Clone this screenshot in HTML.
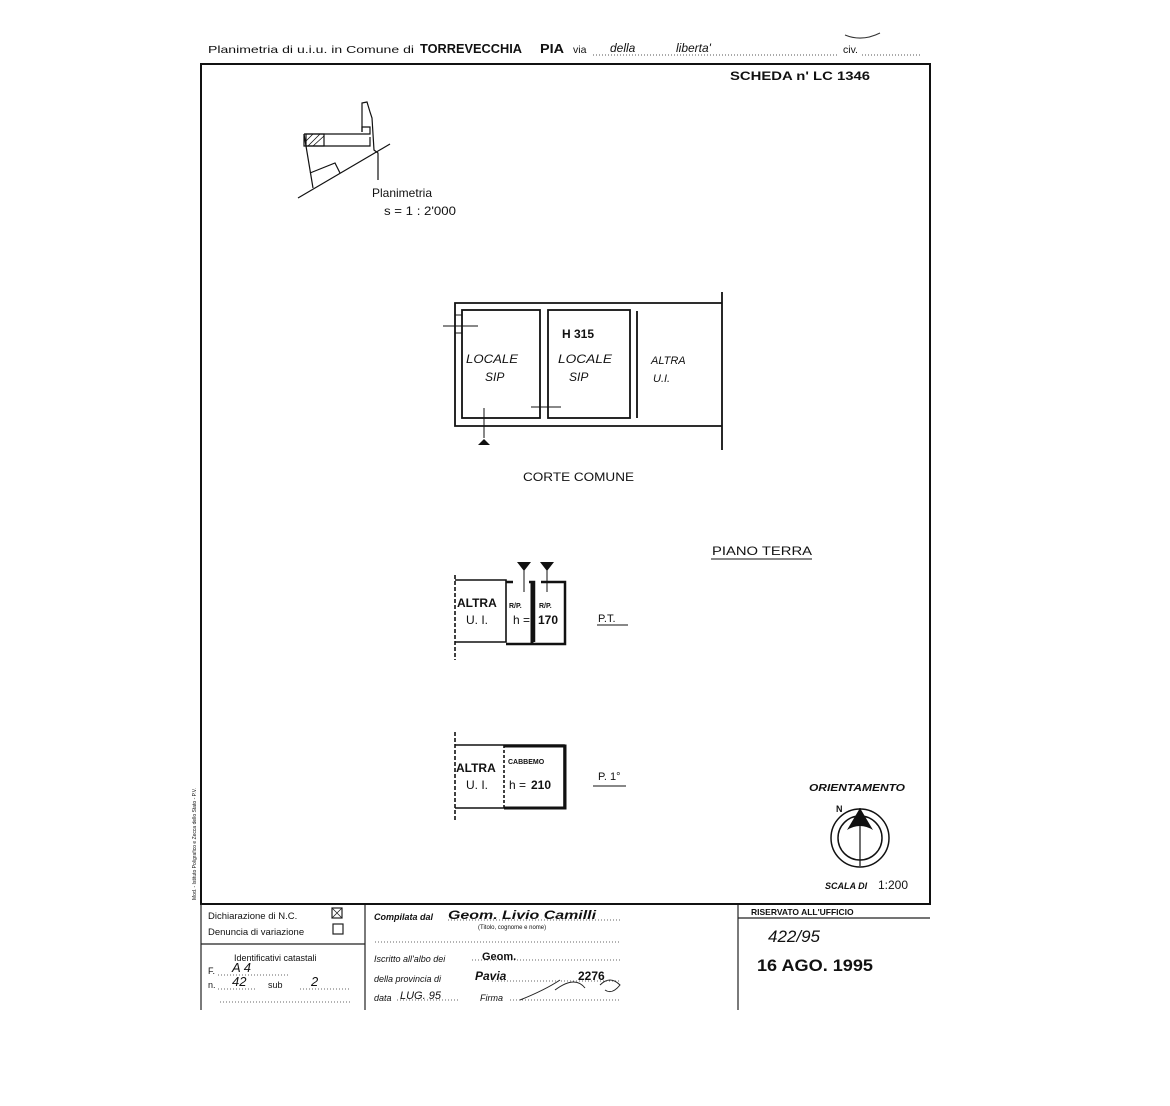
<!DOCTYPE html>
<html><head><meta charset="utf-8"><style>
html,body{margin:0;padding:0;background:#fff;}
svg{display:block;}
text{font-family:"Liberation Sans",sans-serif;fill:#111;}
.h{font-family:"Liberation Sans",sans-serif;font-style:italic;}
</style></head><body>
<svg width="1170" height="1106" viewBox="0 0 1170 1106" xmlns="http://www.w3.org/2000/svg">
<rect width="1170" height="1106" fill="#fff"/>
<!-- header -->
<text x="208" y="53" font-size="10.5" textLength="206" lengthAdjust="spacingAndGlyphs">Planimetria di u.i.u. in Comune di</text>
<text x="420" y="53" font-size="12.5" font-weight="bold" textLength="102" lengthAdjust="spacingAndGlyphs">TORREVECCHIA</text>
<text x="540" y="53" font-size="12.5" font-weight="bold" textLength="24" lengthAdjust="spacingAndGlyphs">PIA</text>
<text x="573" y="53" font-size="10.5">via</text>
<text x="610" y="52" font-size="12" class="h">della</text>
<text x="676" y="52" font-size="12" class="h">liberta'</text>
<text x="843" y="53" font-size="10.5">civ.</text>
<line x1="593" y1="55" x2="837" y2="55" stroke="#555" stroke-dasharray="1,2"/>
<line x1="862" y1="55" x2="922" y2="55" stroke="#555" stroke-dasharray="1,2"/>
<path d="M845 35 Q862 42 880 33" stroke="#333" fill="none"/>
<!-- main frame -->
<rect x="201" y="64" width="729" height="840" fill="none" stroke="#111" stroke-width="2"/>
<text x="730" y="80" font-size="12" font-weight="bold" textLength="140" lengthAdjust="spacingAndGlyphs">SCHEDA  n'  LC 1346</text>
<!-- site plan -->
<g stroke="#111" fill="none" stroke-width="1.2">
<path d="M362 132 L362 103 L367 102 L370 112 L372 118 L374 150 L378 153 L378 180"/>
<path d="M304 134 L370 134 L370 127 L362 127 L362 132"/>
<path d="M304 134 L304 146 L370 146 L370 137"/>
<path d="M304 134 L313 188"/>
<path d="M298 198 L390 144"/>
<path d="M310 173 L335 163 L340 173"/>
<rect x="306" y="134" width="18" height="12"/>
<path d="M308 146 L320 134 M313 146 L324 136 M306 141 L313 134" stroke-width="0.8"/>
</g>
<text x="372" y="197" font-size="12">Planimetria</text>
<text x="384" y="215" font-size="12" textLength="72" lengthAdjust="spacingAndGlyphs">s = 1 : 2'000</text>
<!-- ground plan -->
<g stroke="#111" fill="none" stroke-width="1.8">
<path d="M722 303 L455 303 L455 426 L722 426"/>
<line x1="722" y1="292" x2="722" y2="450"/>
<rect x="462" y="310" width="78" height="108"/>
<rect x="548" y="310" width="82" height="108"/>
<line x1="637" y1="311" x2="637" y2="418"/>
<line x1="443" y1="326" x2="478" y2="326" stroke-width="1"/>
<line x1="455" y1="315" x2="462" y2="315" stroke-width="1"/>
<line x1="455" y1="333" x2="462" y2="333" stroke-width="1"/>
<line x1="484" y1="408" x2="484" y2="438" stroke-width="1"/>
<line x1="531" y1="407" x2="561" y2="407" stroke-width="1"/>
</g>
<path d="M478 445 L484 439 L490 445 Z" fill="#111"/>
<text x="466" y="363" font-size="12" class="h" textLength="52" lengthAdjust="spacingAndGlyphs">LOCALE</text>
<text x="485" y="381" font-size="12" class="h">SIP</text>
<text x="562" y="338" font-size="12" font-weight="bold">H 315</text>
<text x="558" y="363" font-size="12" class="h" textLength="54" lengthAdjust="spacingAndGlyphs">LOCALE</text>
<text x="569" y="381" font-size="12" class="h">SIP</text>
<text x="651" y="364" font-size="11" class="h">ALTRA</text>
<text x="653" y="382" font-size="11" class="h">U.I.</text>
<text x="523" y="481" font-size="12" textLength="111" lengthAdjust="spacingAndGlyphs">CORTE  COMUNE</text>
<text x="712" y="555" font-size="12" textLength="100" lengthAdjust="spacingAndGlyphs">PIANO  TERRA</text>
<line x1="711" y1="559" x2="812" y2="559" stroke="#111"/>
<!-- P.T. -->
<g stroke="#111" fill="none" stroke-width="1.6">
<path d="M455 580 L506 580 L506 642 L455 642"/>
<line x1="455" y1="575" x2="455" y2="660" stroke-dasharray="4,2"/>
<path d="M506 582 L513 582 M529 582 L534 582 L534 642 M541 582 L565 582 L565 644 L506 644" stroke-width="2.5"/>
<line x1="532" y1="582" x2="532" y2="644" stroke-width="3"/>
<line x1="524" y1="568" x2="524" y2="592" stroke-width="1"/>
<line x1="547" y1="568" x2="547" y2="592" stroke-width="1"/>
</g>
<path d="M517 562 L531 562 L524 571 Z M540 562 L554 562 L547 571 Z" fill="#111"/>
<text x="457" y="607" font-size="12" font-weight="bold">ALTRA</text>
<text x="466" y="624" font-size="12">U. I.</text>
<text x="509" y="608" font-size="7" font-weight="bold">R/P.</text>
<text x="539" y="608" font-size="7" font-weight="bold">R/P.</text>
<text x="513" y="624" font-size="12">h =</text>
<text x="538" y="624" font-size="12" font-weight="bold">170</text>
<text x="598" y="622" font-size="11">P.T.</text>
<line x1="597" y1="625" x2="628" y2="625" stroke="#111"/>
<!-- P.1 -->
<g stroke="#111" fill="none" stroke-width="1.6">
<path d="M455 745 L564 745 L564 808 L455 808"/>
<line x1="455" y1="732" x2="455" y2="822" stroke-dasharray="4,2"/>
<line x1="504" y1="745" x2="504" y2="808" stroke-dasharray="3,2"/>
<path d="M504 746 L565 746 L565 808 L504 808" stroke-width="3"/>
</g>
<text x="456" y="772" font-size="12" font-weight="bold">ALTRA</text>
<text x="466" y="789" font-size="12">U. I.</text>
<text x="508" y="764" font-size="7" font-weight="bold">CABBEMO</text>
<text x="509" y="789" font-size="12">h =</text>
<text x="531" y="789" font-size="12" font-weight="bold">210</text>
<text x="598" y="780" font-size="11">P. 1°</text>
<line x1="593" y1="786" x2="626" y2="786" stroke="#111"/>
<!-- orientation -->
<text x="809" y="791" font-size="10.5" font-weight="bold" font-style="italic" textLength="96" lengthAdjust="spacingAndGlyphs">ORIENTAMENTO</text>
<text x="836" y="812" font-size="9" font-weight="bold">N</text>
<circle cx="860" cy="838" r="29" fill="none" stroke="#111" stroke-width="1.5"/>
<circle cx="860" cy="838" r="22" fill="none" stroke="#111" stroke-width="1.5"/>
<path d="M860 808 L847 830 Q860 822 873 830 Z" fill="#111"/>
<line x1="860" y1="808" x2="860" y2="866" stroke="#111" stroke-width="1.2"/>
<text x="825" y="889" font-size="9" font-weight="bold" font-style="italic">SCALA DI</text>
<text x="878" y="889" font-size="12">1:200</text>
<!-- bottom table -->
<g stroke="#222" stroke-width="1.2" fill="none">
<line x1="201" y1="904" x2="201" y2="1010"/>
<line x1="365" y1="905" x2="365" y2="1010"/>
<line x1="738" y1="905" x2="738" y2="1010"/>
<line x1="201" y1="944" x2="365" y2="944"/>
<line x1="738" y1="918" x2="930" y2="918"/>
<rect x="332" y="908" width="10" height="10"/>
<path d="M332 908 L342 918 M342 908 L332 918" stroke-width="0.8"/>
<rect x="333" y="924" width="10" height="10"/>
</g>
<g stroke="#666" stroke-dasharray="1,2">
<line x1="375" y1="942" x2="620" y2="942"/>
<line x1="472" y1="960" x2="620" y2="960"/>
<line x1="492" y1="981" x2="620" y2="981"/>
<line x1="397" y1="1000" x2="460" y2="1000"/>
<line x1="510" y1="1000" x2="620" y2="1000"/>
<line x1="448" y1="920" x2="620" y2="920"/>
<line x1="218" y1="975" x2="290" y2="975"/>
<line x1="218" y1="989" x2="255" y2="989"/>
<line x1="300" y1="989" x2="350" y2="989"/>
<line x1="220" y1="1002" x2="350" y2="1002"/>
</g>
<text x="208" y="919" font-size="9.5">Dichiarazione di N.C.</text>
<text x="208" y="935" font-size="9.5">Denuncia di variazione</text>
<text x="234" y="961" font-size="9">Identificativi catastali</text>
<text x="208" y="974" font-size="9">F.</text>
<text x="232" y="972" font-size="13" class="h">A   4</text>
<text x="208" y="988" font-size="9">n.</text>
<text x="232" y="986" font-size="13" class="h">42</text>
<text x="268" y="988" font-size="9">sub</text>
<text x="311" y="986" font-size="13" class="h">2</text>
<text x="374" y="920" font-size="9" font-style="italic" font-weight="bold">Compilata dal</text>
<text x="448" y="919" font-size="12" font-weight="bold" class="h" textLength="148" lengthAdjust="spacingAndGlyphs">Geom.  Livio  Camilli</text>
<text x="478" y="929" font-size="6">(Titolo, cognome e nome)</text>
<text x="374" y="962" font-size="9" font-style="italic">Iscritto all'albo dei</text>
<text x="482" y="960" font-size="11" font-weight="bold">Geom.</text>
<text x="374" y="982" font-size="9" font-style="italic">della provincia di</text>
<text x="475" y="980" font-size="12" font-weight="bold" class="h">Pavia</text>
<text x="578" y="980" font-size="12" font-weight="bold">2276</text>
<text x="374" y="1001" font-size="9" font-style="italic">data</text>
<text x="400" y="999" font-size="11" class="h">LUG. 95</text>
<text x="480" y="1001" font-size="9" font-style="italic">Firma</text>
<path d="M520 1000 Q545 990 560 980 M555 990 Q575 975 585 988 M600 985 Q610 975 620 985 Q612 995 605 990" stroke="#222" fill="none"/>
<text x="751" y="915" font-size="8.5" font-weight="bold">RISERVATO ALL'UFFICIO</text>
<text x="768" y="942" font-size="17" class="h" fill="#444">422/95</text>
<text x="757" y="971" font-size="17" font-weight="bold" textLength="116" lengthAdjust="spacingAndGlyphs">16 AGO. 1995</text>
<text x="196" y="900" font-size="5" transform="rotate(-90 196 900)">Mod. - Istituto Poligrafico e Zecca dello Stato - P.V.</text>
</svg>
</body></html>
